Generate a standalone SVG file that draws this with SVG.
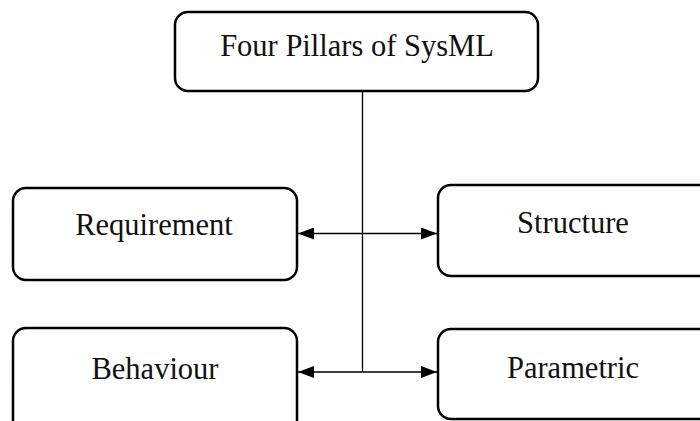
<svg xmlns="http://www.w3.org/2000/svg" width="700" height="421" viewBox="0 0 700 421">
  <style>
    .box { fill: #ffffff; stroke: #000000; stroke-width: 2.5; }
    .label { font-family: "Liberation Serif", "Times New Roman", serif; font-size: 30.5px; fill: #111111; text-anchor: middle; }
    .wire { fill: none; stroke: #000000; stroke-width: 1.3; }
  </style>
  <defs>
    <marker id="arrow" viewBox="0 0 16 12" refX="16" refY="6" markerWidth="16" markerHeight="12" markerUnits="userSpaceOnUse" orient="auto">
      <path d="M0,0 L16,6 L0,12 Z" fill="#000000"/>
    </marker>
  </defs>

  <rect width="700" height="421" fill="#ffffff"/>

  <g id="connectors">
    <line class="wire" x1="362.5" y1="91" x2="362.5" y2="372"/>
    <line class="wire" x1="362.5" y1="233.5" x2="298" y2="233.5" marker-end="url(#arrow)"/>
    <line class="wire" x1="362.5" y1="233.5" x2="437" y2="233.5" marker-end="url(#arrow)"/>
    <line class="wire" x1="362.5" y1="372" x2="298" y2="372" marker-end="url(#arrow)"/>
    <line class="wire" x1="362.5" y1="372" x2="437" y2="372" marker-end="url(#arrow)"/>
  </g>

  <g id="node-sysml">
    <rect class="box" x="175" y="12" width="363" height="79" rx="13"/>
    <text class="label" x="357" y="55.5">Four Pillars of SysML</text>
  </g>

  <g id="node-requirement">
    <rect class="box" x="13" y="188" width="284" height="92" rx="13"/>
    <text class="label" x="154" y="235">Requirement</text>
  </g>

  <g id="node-structure">
    <rect class="box" x="438" y="185" width="275" height="91" rx="13"/>
    <text class="label" x="573" y="232.5">Structure</text>
  </g>

  <g id="node-behaviour">
    <rect class="box" x="13" y="328" width="284" height="110" rx="13"/>
    <text class="label" x="155" y="378.5">Behaviour</text>
  </g>

  <g id="node-parametric">
    <rect class="box" x="438" y="329" width="275" height="90" rx="13"/>
    <text class="label" x="573" y="377.5">Parametric</text>
  </g>
</svg>
